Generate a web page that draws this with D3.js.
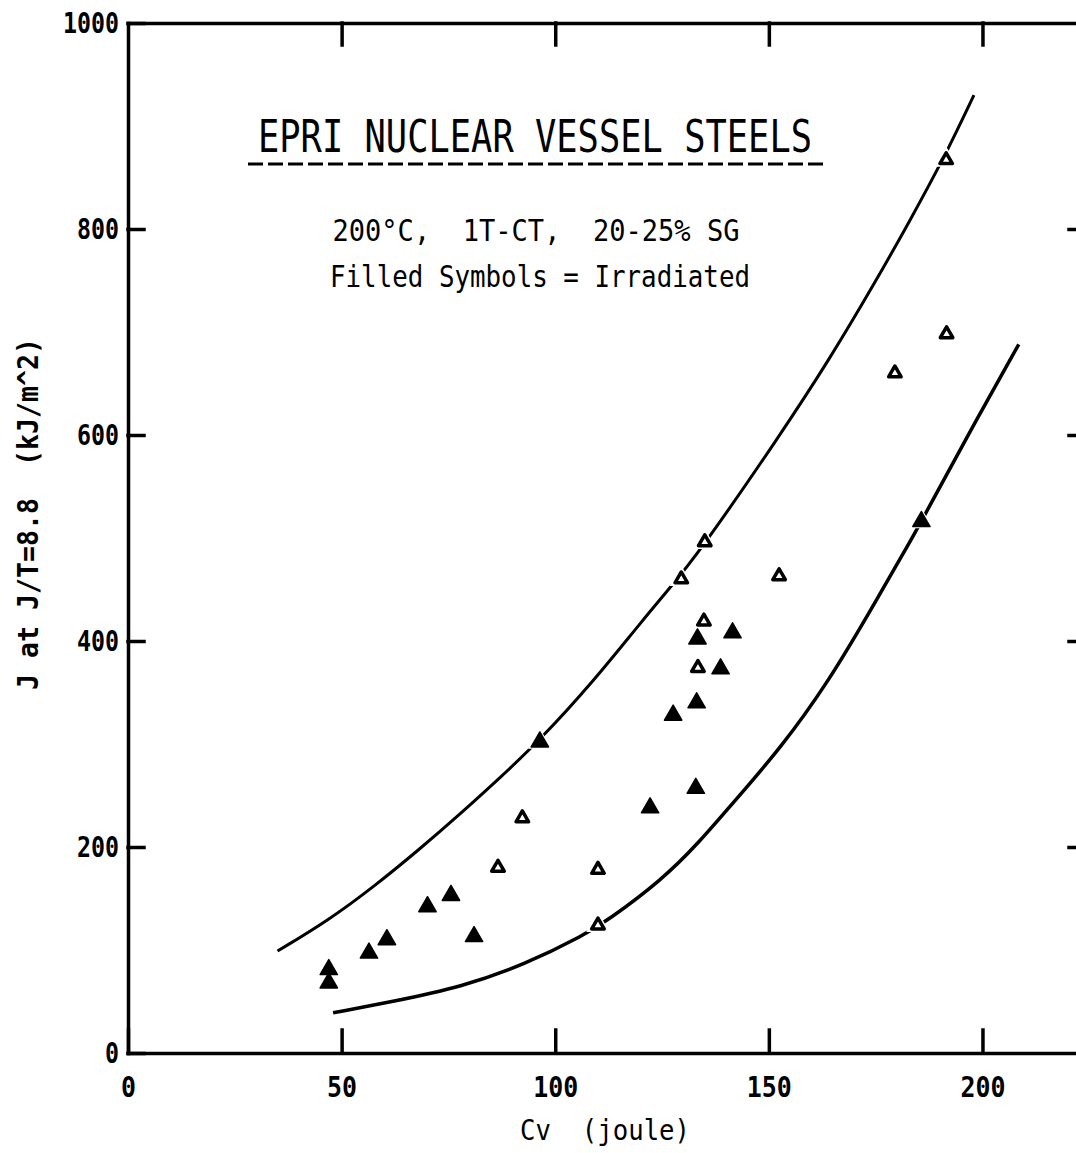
<!DOCTYPE html>
<html>
<head>
<meta charset="utf-8">
<script src="https://cdn.jsdelivr.net/npm/d3@7"></script>
<style>
  body { margin: 0; background: #fff; }
  svg text { font-family: "DejaVu Sans Mono", monospace; fill: #000; white-space: pre; }
</style>
</head>
<body>
<div id="chart"></div>
<script>
// values: Cv (joule) vs J at J/T=8.8 (kJ/m^2)
const filledCv = [47, 47, 56.4, 60.6, 70.1, 75.6, 81, 96.4, 122.2, 127.6, 132.9, 133.1, 133.3, 138.7, 141.5, 185.7];
const filledJ = [81, 68, 97, 110, 142, 153, 113, 302, 238, 328, 257, 340, 402, 373, 408, 516];

const openCv = [86.6, 92.3, 110, 110, 129.5, 135, 134.8, 133.4, 152.4, 179.5, 191.6, 191.5];
const openJ = [180, 228, 178, 124, 460, 496, 419, 374, 463, 660, 698, 867];

// scatter band curves
const upperCv = [35, 47, 58, 68, 78, 87, 96, 109, 120, 130, 136, 152, 164, 175, 183, 191, 198];
const upperJ = [99, 129, 163, 197, 233, 267, 302, 361, 418, 467, 500, 596, 672, 749, 808, 869, 930];
const lowerCv = [48, 62, 78, 93, 107, 112, 125, 134, 141, 153, 164, 173, 184, 188, 199, 208.5];
const lowerJ = [39, 50, 64, 86, 115, 128, 168, 206, 240, 297, 361, 424, 503, 534, 618, 688];

const xTicks = [0, 50, 100, 150, 200];
const yTicks = [0, 200, 400, 600, 800, 1000];
const frameXTicks = [50, 100, 150, 200];
const frameYTicks = [200, 400, 600, 800];

const title = 'EPRI NUCLEAR VESSEL STEELS';
const subtitle1 = '200\u00B0C,  1T-CT,  20-25% SG';
const subtitle2 = 'Filled Symbols = Irradiated';
const xLabel = 'Cv  (joule)';
const yLabel = 'J at J/T=8.8  (kJ/m^2)';

let width = 1076,
  height = 1153;

let svg = d3.select('#chart')
  .append('svg')
  .attr('width', width)
  .attr('height', height)
  .attr('xml:space', 'preserve')
  .style('background-color', '#fff');

let xScale = d3.scaleLinear()
  .domain([0, 224])
  .range([128, 1085]);

let yScale = d3.scaleLinear()
  .domain([0, 1000])
  .range([1053, 23]);

// style an axis group like the plotter output
function styleAxis(g, fontSize, charW) {
  g.attr('font-family', null).attr('font-size', null);
  g.selectAll('path, line')
    .attr('stroke', '#000')
    .attr('stroke-width', 3.5)
    .attr('stroke-linecap', 'square');
  g.selectAll('text')
    .style('font-size', fontSize + 'px')
    .style('font-weight', 'bold')
    .attr('textLength', function() { return this.textContent.length * charW; })
    .attr('lengthAdjust', 'spacingAndGlyphs');
}

// bottom axis
svg.append('g')
  .attr('transform', `translate(0,${yScale(0)})`)
  .call(d3.axisBottom(xScale).tickValues(xTicks).tickFormat(d3.format('d'))
    .tickSizeInner(-23).tickSizeOuter(0).tickPadding(23))
  .call(g => styleAxis(g, 29, 15));

// left axis
svg.append('g')
  .attr('transform', `translate(${xScale(0)},0)`)
  .call(d3.axisLeft(yScale).tickValues(yTicks).tickFormat(d3.format('d'))
    .tickSizeInner(-16).tickSizeOuter(0).tickPadding(9))
  .call(g => styleAxis(g, 29, 14));

// top frame
svg.append('g')
  .attr('transform', `translate(0,${yScale(1000)})`)
  .call(d3.axisTop(xScale).tickValues(frameXTicks).tickSizeInner(-22).tickSizeOuter(0).tickFormat(''))
  .call(g => styleAxis(g, 29, 15));

// right frame (mostly off the page)
svg.append('g')
  .attr('transform', `translate(${xScale(224)},0)`)
  .call(d3.axisRight(yScale).tickValues(frameYTicks).tickSizeInner(-16).tickSizeOuter(0).tickFormat(''))
  .call(g => styleAxis(g, 29, 15));

// curves
let line = d3.line()
  .x(d => xScale(d[0]))
  .y(d => yScale(d[1]))
  .curve(d3.curveBasis);

svg.append('path')
  .datum(d3.zip(upperCv, upperJ))
  .attr('d', line)
  .attr('fill', 'none')
  .attr('stroke', '#000')
  .attr('stroke-width', 3);

svg.append('path')
  .datum(d3.zip(lowerCv, lowerJ))
  .attr('d', line)
  .attr('fill', 'none')
  .attr('stroke', '#000')
  .attr('stroke-width', 3.5);

let filled = d3.zip(filledCv, filledJ);
let open = d3.zip(openCv, openJ);
let tri = d3.symbol().type(d3.symbolTriangle);

// white knock-out behind the symbols (plotter leaves gaps in the curves)
svg.append('g')
  .selectAll('path')
  .data(filled.concat(open))
  .enter()
  .append('path')
  .attr('d', tri.size(240)())
  .attr('transform', d => `translate(${xScale(d[0])},${yScale(d[1])})`)
  .attr('fill', '#fff');

svg.append('g')
  .selectAll('path')
  .data(filled)
  .enter()
  .append('path')
  .attr('d', tri.size(130)())
  .attr('transform', d => `translate(${xScale(d[0])},${yScale(d[1])})`)
  .attr('fill', '#000')
  .attr('stroke', '#000')
  .attr('stroke-width', 1.5)
  .attr('stroke-linejoin', 'round');

svg.append('g')
  .selectAll('path')
  .data(open)
  .enter()
  .append('path')
  .attr('d', tri.size(68)())
  .attr('transform', d => `translate(${xScale(d[0])},${yScale(d[1])})`)
  .attr('fill', '#fff')
  .attr('stroke', '#000')
  .attr('stroke-width', 3.5)
  .attr('stroke-linejoin', 'round');

// title block
svg.append('text')
  .attr('x', 535)
  .attr('y', 152)
  .attr('text-anchor', 'middle')
  .attr('textLength', 554)
  .attr('lengthAdjust', 'spacingAndGlyphs')
  .style('font-size', '45px')
  .text(title);

svg.append('line')
  .attr('x1', 248)
  .attr('x2', 828)
  .attr('y1', 164)
  .attr('y2', 164)
  .attr('stroke', '#000')
  .attr('stroke-width', 3)
  .attr('stroke-dasharray', '15 5');

svg.append('text')
  .attr('x', 536)
  .attr('y', 241)
  .attr('text-anchor', 'middle')
  .attr('textLength', 407)
  .attr('lengthAdjust', 'spacingAndGlyphs')
  .style('font-size', '30px')
  .text(subtitle1);

svg.append('text')
  .attr('x', 540)
  .attr('y', 287)
  .attr('text-anchor', 'middle')
  .attr('textLength', 420)
  .attr('lengthAdjust', 'spacingAndGlyphs')
  .style('font-size', '30px')
  .text(subtitle2);

// axis labels
svg.append('text')
  .attr('x', 520)
  .attr('y', 1140)
  .attr('textLength', 170)
  .attr('lengthAdjust', 'spacingAndGlyphs')
  .style('font-size', '29px')
  .text(xLabel);

svg.append('text')
  .attr('transform', 'translate(38,514) rotate(-90)')
  .attr('text-anchor', 'middle')
  .attr('textLength', 352)
  .attr('lengthAdjust', 'spacingAndGlyphs')
  .style('font-size', '29px')
  .style('font-weight', 'bold')
  .text(yLabel);
</script>
</body>
</html>
